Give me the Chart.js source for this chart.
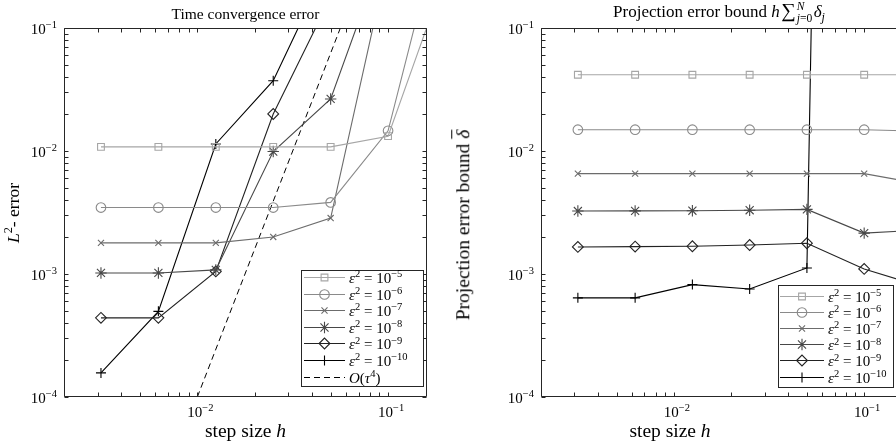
<!DOCTYPE html>
<html><head><meta charset="utf-8">
<script src="https://cdn.jsdelivr.net/npm/chart.js@4.4.1/dist/chart.umd.min.js"></script>
<style>
html,body{margin:0;padding:0;background:#fff;overflow:hidden;}
#wrap{position:relative;width:896px;height:443px;overflow:hidden;background:#fff;font-family:"Liberation Serif","DejaVu Serif",serif;color:#000;}
canvas{position:absolute;top:0;}
.t{position:absolute;white-space:nowrap;line-height:1;}
.t sup{font-size:0.7em;position:relative;top:-0.55em;vertical-align:baseline;line-height:0;}
.t sub{font-size:0.7em;position:relative;top:0.3em;vertical-align:baseline;line-height:0;}
.ss{display:inline-flex;flex-direction:column;font-size:0.68em;line-height:1.05;vertical-align:middle;margin-left:1px;}
.big{font-size:1.2em;}
</style></head><body>
<div id="wrap">
<canvas id="c1" width="450" height="443" style="left:0"></canvas>
<canvas id="c2" width="460" height="443" style="left:450px"></canvas>
</div>
<script>
// ---------------- data ----------------
const H = [0.003125, 0.00625, 0.0125, 0.025, 0.05, 0.1, 0.2];
// Time convergence error (left)
const errE5  = [0.0108, 0.0108, 0.0108, 0.0108, 0.0108, 0.0132, 0.27];
const errE6  = [0.00347, 0.00347, 0.00347, 0.00347, 0.00382, 0.0146, 1.0];
const errE7  = [0.00179, 0.00179, 0.00179, 0.00200, 0.00285, 0.36, 8.0];
const errE8  = [0.00102, 0.00102, 0.00108, 0.0099, 0.0265, 0.52, 9.0];
const errE9  = [0.00044, 0.00044, 0.00105, 0.0200, 0.177, 3.0, 30];
const errE10 = [0.000157, 0.000497, 0.0114, 0.0373, 0.36, 6.0, 60];
// reference slope line O(tau^4)
const refH   = [0.01, 0.1];
const refErr = [1e-4, 1.0];
// Projection error bound (right)
const projE5  = [0.0417, 0.0417, 0.0417, 0.0417, 0.0417, 0.0417, 0.0417];
const projE6  = [0.0149, 0.0149, 0.0149, 0.0149, 0.0149, 0.0149, 0.0145];
const projE7  = [0.00655, 0.00655, 0.00655, 0.00655, 0.00655, 0.00655, 0.0054];
const projE8  = [0.00325, 0.00326, 0.00327, 0.0033, 0.00335, 0.00215, 0.00228];
const projE9  = [0.00166, 0.00167, 0.00168, 0.00172, 0.00178, 0.00110, 0.00079];
const projE10 = [0.00064, 0.00064, 0.00082, 0.000755, 0.00112, 1e23, 1e24];
// legend exponents and tick labels
const epsExp = ['−5', '−6', '−7', '−8', '−9', '−10'];
const xTickVals = [0.01, 0.1];
const xTickExp  = ['−2', '−1'];
const yTickVals = [1e-4, 1e-3, 1e-2, 1e-1];
const yTickExp  = ['−4', '−3', '−2', '−1'];

// ---------------- style ----------------
const GRAYS  = ['#a6a6a6', '#8a8a8a', '#6c6c6c', '#484848', '#222222', '#000000'];
const STYLES = ['rect', 'circle', 'crossRot', 'star', 'rectRot', 'cross'];
const RADII  = [4.8, 4.8, 4.3, 5.7, 5.4, 5];
const AXC = '#262626';
const X_MIN = 0.002, X_MAX = 0.16, Y_MIN = 1e-4, Y_MAX = 1e-1;
const TICK_FS = 15, LEG_FS = 15, LAB_FS = 19.5, TITLE_FS = 15.5;
const wrap = document.getElementById('wrap');

function mkSets(lists) {
  return lists.map((vals, i) => ({
    label: 'eps2=1e' + epsExp[i],
    data: H.map((h, k) => ({x: h, y: vals[k]})),
    borderColor: GRAYS[i], borderWidth: 1.1,
    pointStyle: STYLES[i], pointRadius: RADII[i], pointBorderWidth: 1.1,
    pointBackgroundColor: 'rgba(0,0,0,0)', pointBorderColor: GRAYS[i],
    tension: 0, fill: false, clip: 0
  }));
}

function minorTicks(lo, hi) {
  const out = [];
  for (let e = Math.floor(Math.log10(lo)); e <= Math.ceil(Math.log10(hi)); e++) {
    for (let m = 1; m <= 9; m++) {
      const v = m * Math.pow(10, e);
      if (v >= lo * 0.9999 && v <= hi * 1.0001) out.push({v, major: m === 1});
    }
  }
  return out;
}

function drawPt(ctx, style, r, x, y, color) {
  ctx.save();
  ctx.strokeStyle = color; ctx.fillStyle = 'rgba(0,0,0,0)'; ctx.lineWidth = 1.1;
  Chart.helpers.drawPoint(ctx, {pointStyle: style, radius: r, borderWidth: 1.1, rotation: 0}, x, y);
  ctx.restore();
}

function axesPlugin(legend) {
  return {
    id: 'mAxes',
    afterDraw(chart) {
      const {ctx, chartArea: a} = chart;
      const xs = chart.scales.x, ys = chart.scales.y;
      ctx.save();
      ctx.strokeStyle = AXC; ctx.lineWidth = 1;
      const L = Math.round(a.left) + 0.5, R = Math.round(a.right) - 0.5;
      const T = Math.round(a.top) + 0.5, B = Math.round(a.bottom) - 0.5;
      ctx.beginPath();
      ctx.moveTo(L, T); ctx.lineTo(R, T); ctx.lineTo(R, B); ctx.lineTo(L, B); ctx.closePath();
      const TL = 4;
      minorTicks(X_MIN, X_MAX).forEach(t => {
        const p = Math.round(xs.getPixelForValue(t.v)) + 0.5;
        ctx.moveTo(p, B); ctx.lineTo(p, B - TL);
        ctx.moveTo(p, T); ctx.lineTo(p, T + TL);
      });
      minorTicks(Y_MIN, Y_MAX).forEach(t => {
        const p = Math.round(ys.getPixelForValue(t.v)) + 0.5;
        ctx.moveTo(L, p); ctx.lineTo(L + TL, p);
        ctx.moveTo(R, p); ctx.lineTo(R - TL, p);
      });
      ctx.stroke();
      // legend
      const g = legend;
      ctx.fillStyle = '#fff';
      ctx.fillRect(g.x0, g.y0, g.x1 - g.x0, g.y1 - g.y0);
      ctx.strokeStyle = AXC; ctx.lineWidth = 1;
      ctx.strokeRect(g.x0 + 0.5, g.y0 + 0.5, g.x1 - g.x0 - 1, g.y1 - g.y0 - 1);
      const ds = chart.data.datasets;
      ds.forEach((d, i) => {
        const yy = Math.round(g.ey0 + i * g.dy) + 0.5;
        ctx.save();
        ctx.strokeStyle = d.borderColor; ctx.lineWidth = d.borderWidth;
        if (d.borderDash) ctx.setLineDash(d.borderDash);
        ctx.beginPath(); ctx.moveTo(g.lx0, yy); ctx.lineTo(g.lx1, yy); ctx.stroke();
        ctx.restore();
        if (d.pointRadius > 0) drawPt(ctx, d.pointStyle, d.pointRadius, (g.lx0 + g.lx1) / 2, yy, d.pointBorderColor);
      });
      ctx.restore();
    }
  };
}

function addText(html, x, y, o) {
  o = o || {};
  const d = document.createElement('div');
  d.className = 't';
  d.innerHTML = html;
  d.style.left = x + 'px'; d.style.top = y + 'px';
  d.style.fontSize = (o.size || 13) + 'px';
  const ax = o.ax === undefined ? 0.5 : o.ax, ay = o.ay === undefined ? 0.5 : o.ay;
  d.style.transform = 'translate(' + (-ax * 100) + '%,' + (-ay * 100) + '%)' + (o.rot ? ' rotate(' + o.rot + 'deg)' : '');
  wrap.appendChild(d);
  return d;
}

function baseOpts(pad) {
  return {
    responsive: false, animation: false, events: [],
    layout: {padding: pad},
    plugins: {legend: {display: false}, tooltip: {enabled: false}, title: {display: false}},
    scales: {
      x: {type: 'logarithmic', min: X_MIN, max: X_MAX, display: false},
      y: {type: 'logarithmic', min: Y_MIN, max: Y_MAX, display: false}
    }
  };
}

// ---------------- left chart ----------------
const leftSets = mkSets([errE5, errE6, errE7, errE8, errE9, errE10]);
leftSets.push({
  label: 'O(tau^4)', data: refH.map((h, k) => ({x: h, y: refErr[k]})),
  borderColor: '#000', borderWidth: 1, borderDash: [6, 4], pointRadius: 0, tension: 0, fill: false, clip: 0
});
const leftLegend = {x0: 301, y0: 270, x1: 424, y1: 387, ey0: 277, dy: 16.6, lx0: 304, lx1: 345};
const ch1 = new Chart(document.getElementById('c1'), {
  type: 'line',
  data: {datasets: leftSets},
  options: baseOpts({left: 64, top: 28, right: 23, bottom: 46}),
  plugins: [axesPlugin(leftLegend)]
});

// ---------------- right chart ----------------
const rightSets = mkSets([projE5, projE6, projE7, projE8, projE9, projE10]);
const OFF = 450;
const rightLegend = {x0: 778 - OFF, y0: 285, x1: 894 - OFF, y1: 388, ey0: 296, dy: 16.1, lx0: 780 - OFF, lx1: 824 - OFF};
const ch2 = new Chart(document.getElementById('c2'), {
  type: 'line',
  data: {datasets: rightSets},
  options: baseOpts({left: 91, top: 28, right: 7, bottom: 46}),
  plugins: [axesPlugin(rightLegend)]
});

// ---------------- texts ----------------
function axisTexts(chart, off) {
  const a = chart.chartArea, xs = chart.scales.x, ys = chart.scales.y;
  xTickVals.forEach((v, i) => addText('10<sup>' + xTickExp[i] + '</sup>', off + xs.getPixelForValue(v) + 3, a.bottom + 15, {size: TICK_FS}));
  yTickVals.forEach((v, i) => addText('10<sup>' + yTickExp[i] + '</sup>', off + a.left - 7, ys.getPixelForValue(v) + 1, {size: TICK_FS, ax: 1}));
}
axisTexts(ch1, 0);
axisTexts(ch2, OFF);

const a1 = ch1.chartArea, a2 = ch2.chartArea;
addText('Time convergence error', (a1.left + a1.right) / 2, 14, {size: TITLE_FS});
addText('Projection error bound <i>h</i>&#8202;<span class="big">∑</span><span class="ss"><i>N</i><span><i>j</i>=0</span></span>&#8202;<i>δ</i><sub><i>j</i></sub>', OFF + (a2.left + a2.right) / 2 - 3, 13, {size: 17});
addText('step size <i>h</i>', (a1.left + a1.right) / 2, 431, {size: LAB_FS});
addText('step size <i>h</i>', 670, 431, {size: LAB_FS});
addText('<i>L</i><sup>2</sup>- error', 14, (a1.top + a1.bottom) / 2, {size: 17.5, rot: -90});
addText('Projection error bound <span style="text-decoration:overline"><i>δ</i></span>', 463, 225, {size: LAB_FS, rot: -90});

// legend texts
[leftLegend, rightLegend].forEach((g, k) => {
  const off = k === 0 ? 0 : OFF;
  epsExp.forEach((e, i) => addText('<i>ε</i><sup>2</sup> = 10<sup>' + e + '</sup>', off + g.lx1 + 4, g.ey0 + i * g.dy + 1, {size: LEG_FS, ax: 0}));
});
addText('<i>O</i>(<i>τ</i><sup>4</sup>)', leftLegend.lx1 + 4, leftLegend.ey0 + 6 * leftLegend.dy + 1, {size: LEG_FS, ax: 0});
</script>
</body></html>
